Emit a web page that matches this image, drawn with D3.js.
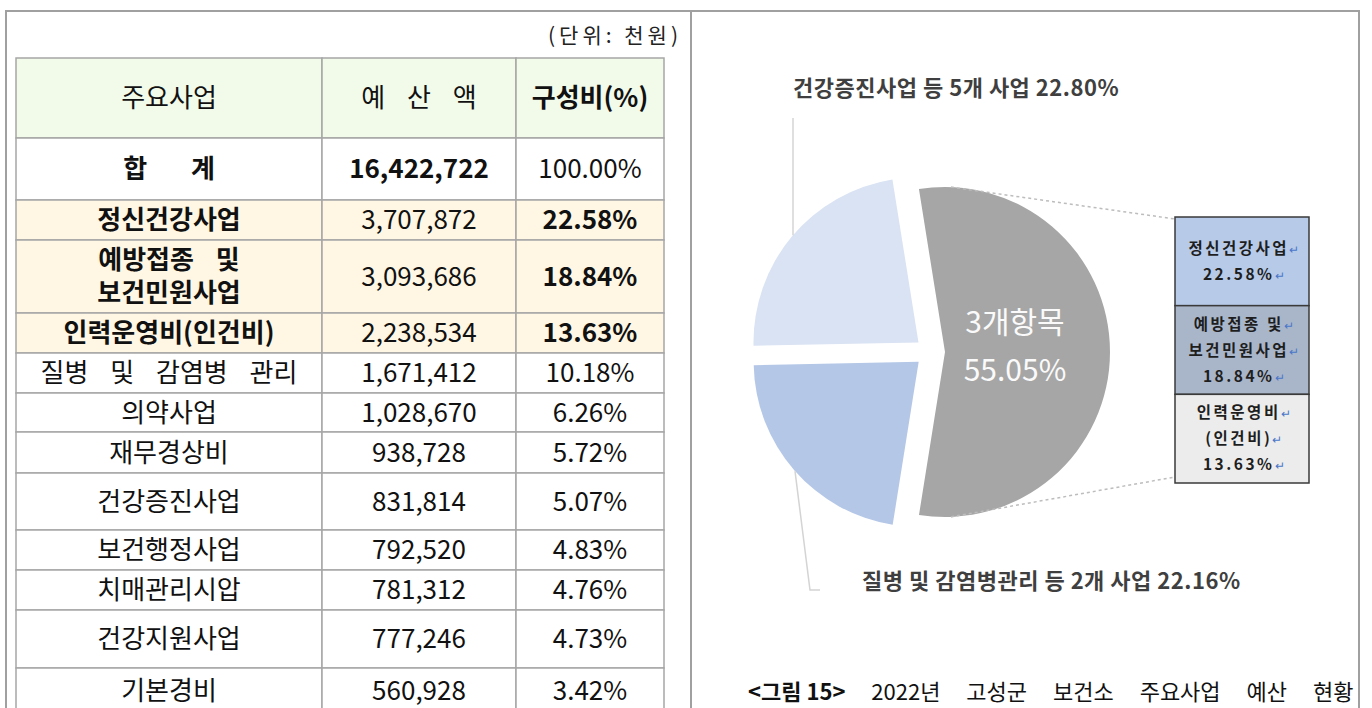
<!DOCTYPE html>
<html>
<head>
<meta charset="utf-8">
<script src="https://cdn.jsdelivr.net/npm/d3@7"></script>
<style>
  body { margin: 0; background: #fff; }
  svg text { font-family: "Noto Sans CJK KR", "Noto Sans", sans-serif; }
</style>
</head>
<body>
<svg id="chart" width="1372" height="708"></svg>
<script>
// Table data (unit: 천원)
const headers = ['주요사업', '예 산 액', '구성비(%)'];
const totalLabel = '합  계';
const totalBudget = 16422722;
const totalShare = '100.00%';
const items = ['정신건강사업', '예방접종 및\n보건민원사업', '인력운영비(인건비)', '질병 및 감염병 관리', '의약사업',
    '재무경상비', '건강증진사업', '보건행정사업', '치매관리시압', '건강지원사업', '기본경비'];
const budgets = [3707872, 3093686, 2238534, 1671412, 1028670, 938728, 831814, 792520, 781312, 777246, 560928];
const shares = [22.58, 18.84, 13.63, 10.18, 6.26, 5.72, 5.07, 4.83, 4.76, 4.73, 3.42];
const topCount = 3; // first three rows are highlighted

// Pie data
const pieGroups = ['3개항목', '질병 및 감염병관리 등 2개 사업', '건강증진사업 등 5개 사업'];
const pieShares = [55.05, 22.16, 22.80];
const boxLines = [['정신건강사업', '22.58%'], ['예방접종 및', '보건민원사업', '18.84%'], ['인력운영비', '(인건비)', '13.63%']];
const caption = ['<그림 15>', ' 2022년 고성군 보건소 주요사업 예산 현황'];

const svg = d3.select('#chart');
const fmt = d3.format(',');

// Outer frame with two cells
svg.append('rect').attr('x', 6).attr('y', 11).attr('width', 1353).attr('height', 720)
    .style('fill', 'none').style('stroke', '#a0a0a0').style('stroke-width', 2);
svg.append('line').attr('x1', 691).attr('x2', 691).attr('y1', 11).attr('y2', 708)
    .style('stroke', '#a0a0a0').style('stroke-width', 2);

svg.append('text').text('(단위: 천원)')
    .attr('x', 682).attr('y', 35).attr('dy', '0.36em')
    .attr('text-anchor', 'end')
    .style('font-size', '21px').style('letter-spacing', '4px').style('fill', '#222');

// ---------- table ----------
const colX = [16, 322, 516, 664];
const rowH = [80, 62, 40, 73, 40, 40, 39, 41, 57, 40, 40, 58, 46];
const rowY = [58];
rowH.forEach(h => rowY.push(rowY[rowY.length - 1] + h));

// Build rows from the arrays
const rows = [];
rows.push({cells: headers, fill: '#f2faea', bold: [false, false, true]});
rows.push({cells: [totalLabel, fmt(totalBudget), totalShare], fill: '#fff', bold: [true, true, false]});
items.forEach((name, i) => {
    const top = i < topCount;
    rows.push({
        cells: [name, fmt(budgets[i]), shares[i].toFixed(2) + '%'],
        fill: top ? '#fff7e4' : '#fff',
        bold: top ? [true, false, true] : [false, false, false]
    });
});

const table = svg.append('g');
rows.forEach((row, r) => {
    const y0 = rowY[r], h = rowH[r];
    row.cells.forEach((txt, c) => {
        table.append('rect')
            .attr('x', colX[c]).attr('y', y0)
            .attr('width', colX[c + 1] - colX[c]).attr('height', h)
            .style('fill', row.fill).style('stroke', '#a6a6a6').style('stroke-width', 1.5);

        const lines = txt.split('\n');
        const lh = 33;
        const t = table.append('text')
            .attr('x', (colX[c] + colX[c + 1]) / 2)
            .attr('y', y0 + h / 2 - (lines.length - 1) * lh / 2)
            .attr('text-anchor', 'middle')
            .style('font-size', '26px')
            .style('font-weight', row.bold[c] ? 700 : 400)
            .style('word-spacing', '16px')
            .style('white-space', 'pre')
            .style('fill', '#111');
        lines.forEach((ln, k) => {
            t.append('tspan')
                .attr('x', (colX[c] + colX[c + 1]) / 2)
                .attr('dy', k === 0 ? '0.36em' : lh)
                .text(ln);
        });
    });
});

// ---------- pie ----------
const pieCx = 930, pieCy = 352, pieR = 165, explode = 15;
const pieColors = ['#a6a6a6', '#b4c7e7', '#dae3f3'];
// rotate so the big slice points to the right
const a0 = Math.PI / 2 - (pieShares[0] / 100) * Math.PI;
const pie = d3.pie().sort(null).value(d => d).startAngle(a0).endAngle(a0 + 2 * Math.PI);
const arcs = pie(pieShares);
const arc = d3.arc().innerRadius(0).outerRadius(pieR);

const offset = d => {
    const m = (d.startAngle + d.endAngle) / 2;
    return [Math.sin(m) * explode, -Math.cos(m) * explode];
};

const pieG = svg.append('g').attr('transform', `translate(${pieCx},${pieCy})`);
pieG.selectAll('path').data(arcs).join('path')
    .attr('d', arc)
    .attr('transform', d => `translate(${offset(d)})`)
    .style('fill', (d, i) => pieColors[i]);

// white label inside grey slice
const greyOff = offset(arcs[0]);
const bigLabel = [pieGroups[0], pieShares[0].toFixed(2) + '%'];
bigLabel.forEach((s, k) => {
    pieG.append('text').text(s)
        .attr('x', greyOff[0] + 70).attr('y', -30 + k * 48).attr('dy', '0.36em')
        .attr('text-anchor', 'middle')
        .style('font-size', '30px').style('fill', '#fafafa');
});

// point on a slice arc at a given x (top or bottom half)
const arcYAt = (d, x, upper) => {
    const o = offset(d);
    const ax = pieCx + o[0], ay = pieCy + o[1];
    const dy = Math.sqrt(pieR * pieR - (x - ax) * (x - ax));
    return upper ? ay - dy : ay + dy;
};

// outside labels + leader lines
const labelColor = '#3f3f3f';
const topLeaderX = 793;
svg.append('line')
    .attr('x1', topLeaderX).attr('x2', topLeaderX)
    .attr('y1', 118).attr('y2', arcYAt(arcs[2], topLeaderX, true))
    .style('stroke', '#d4d4d4').style('stroke-width', 1.5);
svg.append('text').text(pieGroups[2] + ' ' + pieShares[2].toFixed(2) + '%')
    .attr('x', 793).attr('y', 88).attr('dy', '0.36em')
    .style('font-size', '22px').style('font-weight', 700).style('letter-spacing', '0.5px')
    .style('fill', labelColor);

const botLeaderX = 795;
svg.append('polyline')
    .attr('points', [[botLeaderX, arcYAt(arcs[1], botLeaderX, false)], [810, 590], [820, 590]].join(' '))
    .style('fill', 'none').style('stroke', '#d4d4d4').style('stroke-width', 1.5);
svg.append('text').text(pieGroups[1] + ' ' + pieShares[1].toFixed(2) + '%')
    .attr('x', 862).attr('y', 581).attr('dy', '0.36em')
    .style('font-size', '22px').style('font-weight', 700).style('letter-spacing', '0.5px')
    .style('fill', labelColor);

// ---------- breakdown box ----------
const boxX = 1175, boxW = 134;
const boxY = d3.scaleLinear().domain([0, boxLines.length]).range([217, 483]);
const boxFills = ['#b7cbe8', '#a9b6ca', '#ececec'];

// dashed connectors from the grey slice to the box
const gx = pieCx + greyOff[0];
svg.append('line')
    .attr('x1', gx + 6).attr('y1', arcYAt(arcs[0], gx + 6, true))
    .attr('x2', boxX).attr('y2', boxY(0) + 2)
    .style('stroke', '#bdbdbd').style('stroke-width', 1.5).style('stroke-dasharray', '3,3');
svg.append('line')
    .attr('x1', gx + 6).attr('y1', arcYAt(arcs[0], gx + 6, false))
    .attr('x2', boxX).attr('y2', boxY(boxLines.length) - 6)
    .style('stroke', '#bdbdbd').style('stroke-width', 1.5).style('stroke-dasharray', '3,3');

const box = svg.append('g');
boxLines.forEach((lines, i) => {
    const y0 = boxY(i), y1 = boxY(i + 1);
    box.append('rect')
        .attr('x', boxX).attr('y', y0).attr('width', boxW).attr('height', y1 - y0)
        .style('fill', boxFills[i]).style('stroke', '#3a3a3a').style('stroke-width', 1.5);
    const lh = 26;
    const cy = (y0 + y1) / 2 - (lines.length - 1) * lh / 2;
    lines.forEach((ln, k) => {
        const t = box.append('text')
            .attr('x', boxX + boxW / 2 + 3).attr('y', cy + k * lh).attr('dy', '0.36em')
            .attr('text-anchor', 'middle')
            .style('font-size', '15.5px').style('font-weight', 700)
            .style('letter-spacing', '2.5px')
            .style('fill', '#1e1e1e');
        t.append('tspan').text(ln);
        t.append('tspan').text('↵').style('fill', '#4a76c8').style('font-size', '12px').style('font-weight', 400);
    });
});

// ---------- caption ----------
const cap = svg.append('text')
    .attr('x', 748).attr('y', 692).attr('dy', '0.36em')
    .style('font-size', '22px').style('fill', '#111')
    .style('white-space', 'pre');
cap.append('tspan').text(caption[0]).style('font-weight', 700);
cap.append('tspan').text(caption[1]).style('word-spacing', '21px');
</script>
</body>
</html>
